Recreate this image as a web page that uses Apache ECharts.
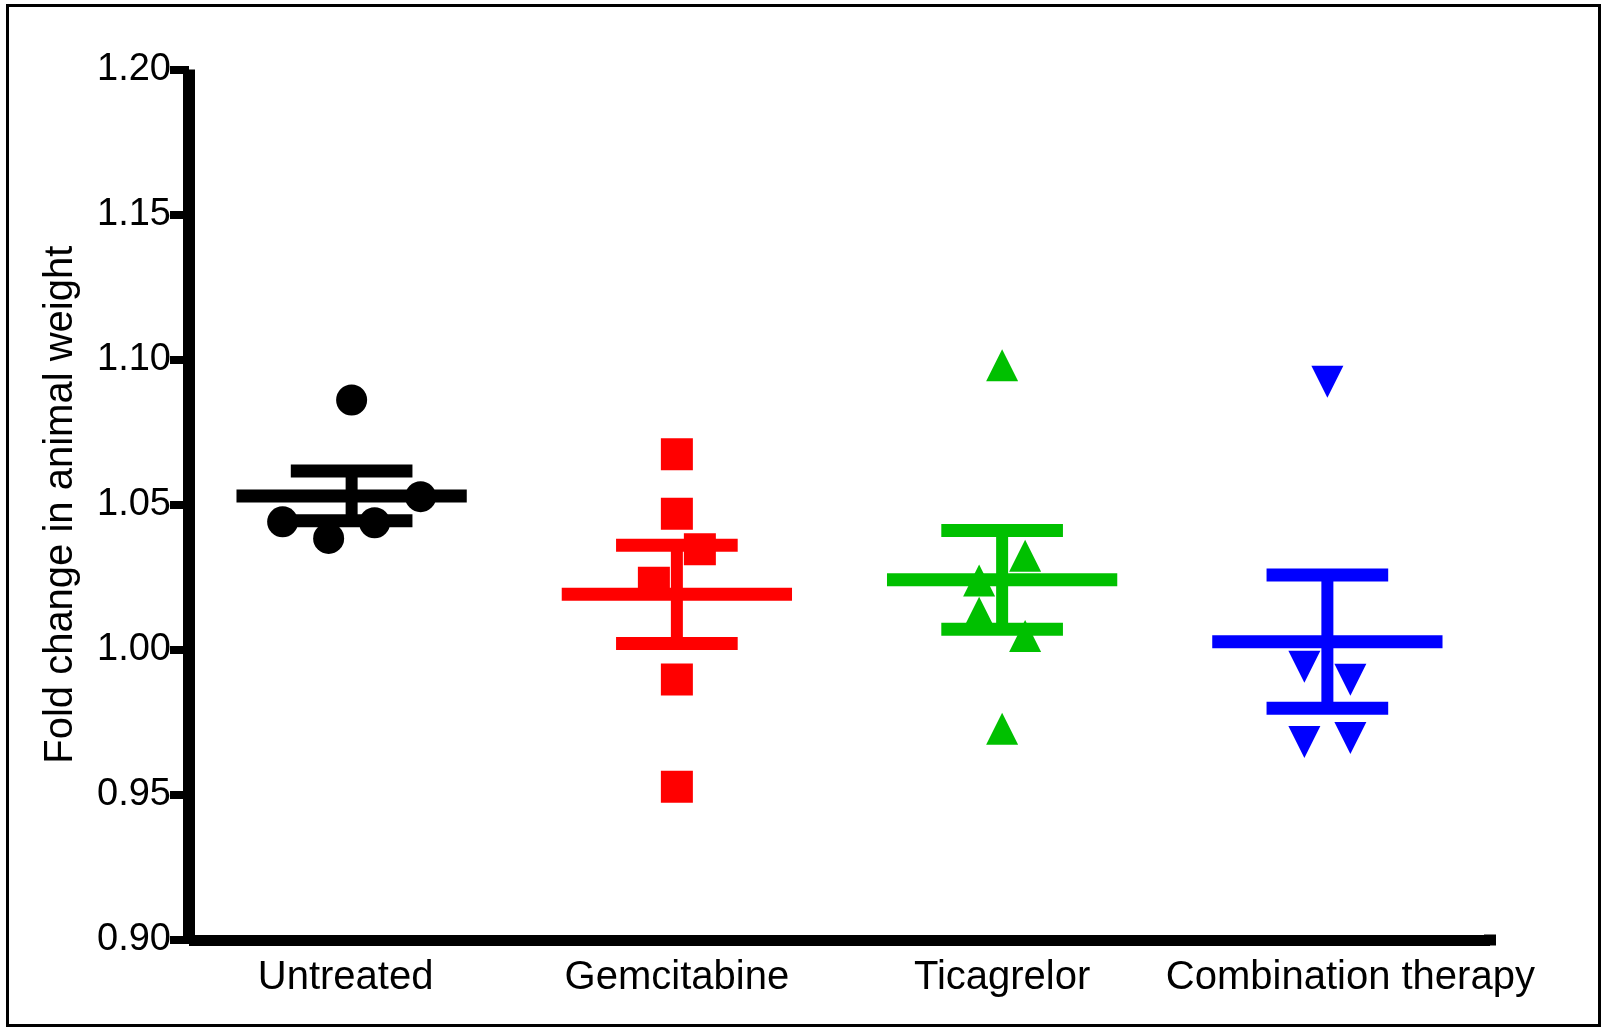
<!DOCTYPE html>
<html>
<head>
<meta charset="utf-8">
<script src="https://cdn.jsdelivr.net/npm/echarts@6/dist/echarts.min.js"></script>
<style>
html,body{margin:0;padding:0;background:#fff;}
#chart{width:1603px;height:1028px;}
</style>
</head>
<body>
<div id="chart"></div>
<script>
// ---- data ----
const categories = ['Untreated', 'Gemcitabine', 'Ticagrelor', 'Combination therapy'];
const yTicks = [0.90, 0.95, 1.00, 1.05, 1.10, 1.15, 1.20];

const untreated   = [1.0861, 1.0528, 1.0441, 1.0384, 1.0438];
const gemcitabine = [1.0674, 1.0469, 1.0347, 1.0231, 0.9898, 0.9528];
const ticagrelor  = [1.0981, 1.0324, 1.0239, 1.0128, 1.0048, 0.9728];
const combination = [1.0924, 0.9942, 0.9897, 0.9682, 0.9696];

// horizontal column-scatter slots of each point (in symbol-width steps)
const untreatedSlots   = [0, 3, -3, -1, 1];
const gemcitabineSlots = [0, 0, 1, -1, 0, 0];
const ticagrelorSlots  = [0, 1, -1, -1, 1, 0];
const combinationSlots = [0, -1, 1, -1, 1];

// ---- layout / style ----
const SLOT = 0.0707;
const colors = ['#000000', '#ff0000', '#00c000', '#0000ff'];
const FONT = '"Liberation Sans", Arial, Helvetica, sans-serif';
const labelPads = [[0, 12, 0, 0], [0, 0, 0, 0], [0, 0, 0, 0], [0, 0, 0, 46]];

const groups = [untreated, gemcitabine, ticagrelor, combination];
const slots = [untreatedSlots, gemcitabineSlots, ticagrelorSlots, combinationSlots];
const symbols = [
  {symbol: 'circle', size: 31, rotate: 0},
  {symbol: 'rect', size: 32, rotate: 0},
  {symbol: 'triangle', size: 32, rotate: 0},
  {symbol: 'triangle', size: 32, rotate: 180}
];

function mean(a) { return a.reduce((s, v) => s + v, 0) / a.length; }
function sem(a) {
  const m = mean(a);
  const v = a.reduce((s, x) => s + (x - m) * (x - m), 0) / (a.length - 1);
  return Math.sqrt(v) / Math.sqrt(a.length);
}

const series = [];
groups.forEach((g, i) => {
  series.push({
    type: 'scatter',
    xAxisIndex: 1,
    symbol: symbols[i].symbol,
    symbolSize: symbols[i].size,
    symbolRotate: symbols[i].rotate,
    itemStyle: {color: colors[i], opacity: 1},
    data: g.map((v, k) => [i + slots[i][k] * SLOT, v]),
    z: 2
  });
});

const LW = 13;
series.push({
  type: 'custom',
  xAxisIndex: 1,
  z: 3,
  data: groups.map((g, i) => [i, mean(g), sem(g)]),
  renderItem: function (params, api) {
    const i = api.value(0), m = api.value(1), s = api.value(2);
    const c = api.coord([i, m]);
    const top = api.coord([i, m + s]);
    const bot = api.coord([i, m - s]);
    const band = api.size([1, 0])[0];
    const half = band * 0.354;
    const cap = band * 0.187;
    const col = colors[i];
    return {
      type: 'group',
      children: [
        {type: 'rect', shape: {x: c[0] - half, y: c[1] - LW / 2, width: 2 * half, height: LW}, style: {fill: col}},
        {type: 'rect', shape: {x: c[0] - cap, y: top[1] - LW / 2, width: 2 * cap, height: LW}, style: {fill: col}},
        {type: 'rect', shape: {x: c[0] - cap, y: bot[1] - LW / 2, width: 2 * cap, height: LW}, style: {fill: col}},
        {type: 'rect', shape: {x: c[0] - 6, y: top[1], width: 12, height: bot[1] - top[1]}, style: {fill: col}}
      ]
    };
  }
});

const chart = echarts.init(document.getElementById('chart'), null, {renderer: 'canvas'});
chart.setOption({
  animation: false,
  backgroundColor: '#ffffff',
  graphic: [{
    type: 'rect',
    shape: {x: 7.5, y: 5.5, width: 1592, height: 1020},
    style: {fill: 'none', stroke: '#000', lineWidth: 3},
    z: 0
  }],
  grid: {left: 189, right: 113, top: 69.5, bottom: 88},
  xAxis: [{
    type: 'category',
    data: categories.map((c, i) => ({value: c, textStyle: {padding: labelPads[i]}})),
    boundaryGap: true,
    axisLine: {onZero: false, symbol: ['none', 'rect'], symbolSize: [11, 12], symbolOffset: [0, 0],
      lineStyle: {color: '#000', width: 11, cap: 'butt'}},
    axisTick: {alignWithLabel: true, length: 19, lineStyle: {color: '#000', width: 11}},
    axisLabel: {color: '#000', fontSize: 40, fontFamily: FONT, margin: 18, interval: 0},
    splitLine: {show: false}
  }, {
    type: 'value', min: -0.5, max: 3.5, show: false
  }],
  yAxis: {
    type: 'value',
    min: yTicks[0],
    max: yTicks[yTicks.length - 1],
    interval: 0.05,
    name: 'Fold change in animal weight',
    nameLocation: 'middle',
    nameGap: 108,
    nameTextStyle: {color: '#000', fontSize: 40, fontFamily: FONT},
    axisLine: {show: true, onZero: false, lineStyle: {color: '#000', width: 12, cap: 'butt'}},
    axisTick: {show: true, length: 19, lineStyle: {color: '#000', width: 8}},
    axisLabel: {color: '#000', fontSize: 38, fontFamily: FONT, margin: 18,
      formatter: v => v.toFixed(2)},
    splitLine: {show: false}
  },
  series: series
});
</script>
</body>
</html>
